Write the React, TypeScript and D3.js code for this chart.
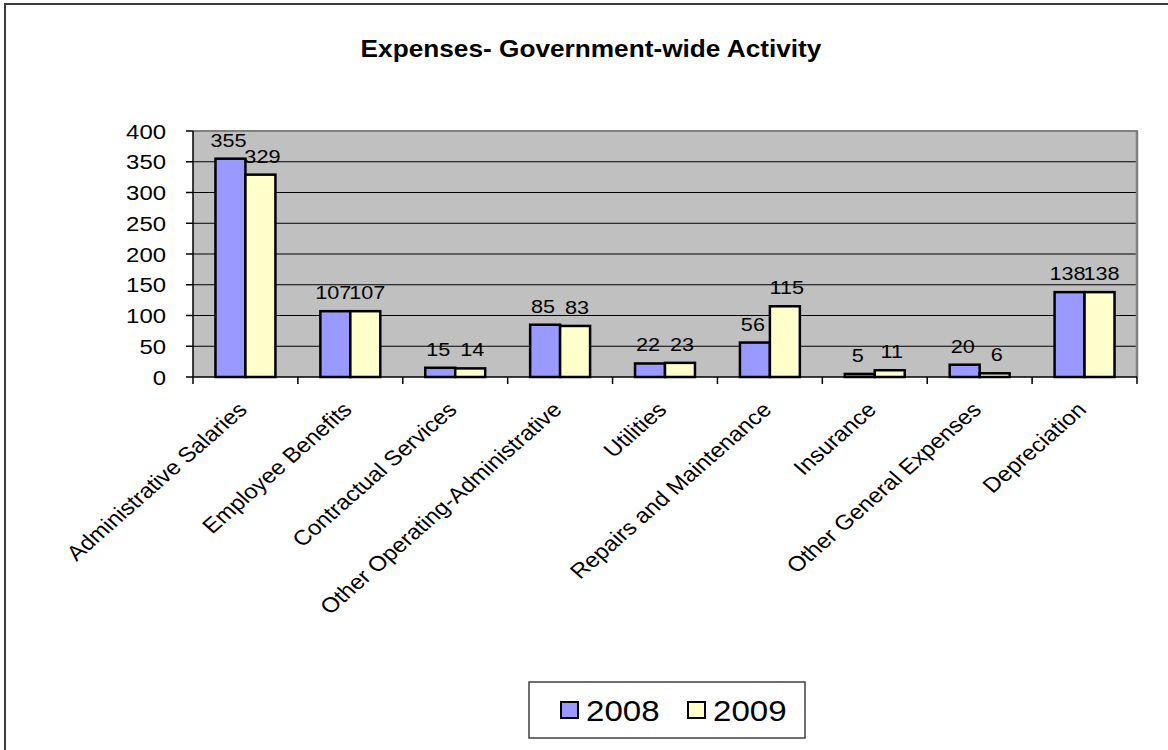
import React from 'react';
import * as d3 from 'd3';

const categories = [
  'Administrative Salaries',
  'Employee Benefits',
  'Contractual Services',
  'Other Operating-Administrative',
  'Utilities',
  'Repairs and Maintenance',
  'Insurance',
  'Other General Expenses',
  'Depreciation',
];
const values2008 = [355, 107, 15, 85, 22, 56, 5, 20, 138];
const values2009 = [329, 107, 14, 83, 23, 115, 11, 6, 138];
const seriesNames = ['2008', '2009'];
const seriesColors = ['#9999FF', '#FFFFCC'];
const yTicks = [0, 50, 100, 150, 200, 250, 300, 350, 400];
const title = 'Expenses- Government-wide Activity';

const FONT = '"Liberation Sans", Arial, Helvetica, sans-serif';

export default function App() {
  const W = 1168;
  const H = 750;
  const S = 1.14; // horizontal text stretch of the reference
  const left = 193;
  const right = 1137;
  const top = 131;
  const bottom = 377;

  const x = d3.scaleBand<string>().domain(categories).range([left, right]).paddingInner(0).paddingOuter(0);
  const y = d3.scaleLinear().domain([0, 400]).range([bottom, top]);
  const bw = x.bandwidth();
  const barW = bw / 3.5;
  const series = [values2008, values2009];

  return (
    <svg
      width={W}
      height={H}
      style={{ position: 'absolute', left: 0, top: 0, display: 'block' }}
      fontFamily={FONT}
    >
      <rect x={0} y={0} width={W} height={H} fill="#ffffff" />
      {/* outer chart border */}
      <rect x={5} y={4} width={1220} height={800} fill="none" stroke="#3c3c3c" strokeWidth={2} />

      {/* title */}
      <text
        transform={`translate(591,57) scale(${S},1)`}
        textAnchor="middle"
        fontSize={23}
        fontWeight="bold"
        fill="#000"
      >
        {title}
      </text>

      {/* plot area */}
      <rect x={left} y={top} width={right - left} height={bottom - top} fill="#C0C0C0" />
      {/* gridlines */}
      {yTicks
        .filter((t) => t > 0 && t < 400)
        .map((t) => (
          <line key={'g' + t} x1={left} x2={right} y1={y(t)} y2={y(t)} stroke="#000" strokeWidth={1.2} />
        ))}
      {/* plot border top/right (gray) */}
      <line x1={left} x2={right + 1} y1={top} y2={top} stroke="#808080" strokeWidth={2} />
      <line x1={right} x2={right} y1={top} y2={bottom} stroke="#808080" strokeWidth={2.5} />

      {/* bars */}
      {categories.map((c, i) => {
        const x0 = (x(c) as number) + bw / 2 - barW;
        return (
          <g key={c}>
            {series.map((vals, s) => (
              <rect
                key={s}
                x={x0 + s * barW}
                y={y(vals[i])}
                width={barW}
                height={bottom - y(vals[i])}
                fill={seriesColors[s]}
                stroke="#000"
                strokeWidth={2.5}
              />
            ))}
          </g>
        );
      })}

      {/* axes */}
      <line x1={left} x2={left} y1={top} y2={bottom} stroke="#000" strokeWidth={1.5} />
      <line x1={left} x2={right} y1={bottom} y2={bottom} stroke="#000" strokeWidth={1.5} />
      {yTicks.map((t) => (
        <g key={'yt' + t}>
          <line x1={left - 7} x2={left} y1={y(t)} y2={y(t)} stroke="#000" strokeWidth={1.5} />
          <text
            transform={`translate(166,${y(t) + 7.5}) scale(${S},1)`}
            textAnchor="end"
            fontSize={21}
            fill="#000"
          >
            {t}
          </text>
        </g>
      ))}
      {d3.range(categories.length + 1).map((k) => {
        const xx = left + k * bw;
        return <line key={'xt' + k} x1={xx} x2={xx} y1={bottom} y2={bottom + 7} stroke="#000" strokeWidth={1.5} />;
      })}

      {/* data labels */}
      {categories.map((c, i) => {
        const x0 = (x(c) as number) + bw / 2 - barW;
        return series.map((vals, s) => (
          <text
            key={c + s}
            transform={`translate(${x0 + s * barW + barW / 2 + (s === 0 ? -2 : 2)},${y(vals[i]) - 12}) scale(${S},1)`}
            textAnchor="middle"
            fontSize={19}
            fill="#000"
          >
            {vals[i]}
          </text>
        ));
      })}

      {/* category labels */}
      {categories.map((c) => {
        const cx = (x(c) as number) + bw / 2;
        return (
          <text
            key={'cl' + c}
            transform={`translate(${cx + 3},411) scale(${S},1) rotate(-45)`}
            textAnchor="end"
            fontSize={21}
            fill="#000"
          >
            {c}
          </text>
        );
      })}

      {/* legend */}
      <rect x={529} y={682} width={276} height={56} fill="#fff" stroke="#404040" strokeWidth={1.5} />
      {seriesNames.map((n, s) => {
        const lx = s === 0 ? 561 : 688;
        return (
          <g key={n}>
            <rect x={lx} y={702} width={17} height={16} fill={seriesColors[s]} stroke="#000" strokeWidth={2} />
            <text
              transform={`translate(${lx + 25},721) scale(${S},1)`}
              fontSize={29}
              fill="#000"
            >
              {n}
            </text>
          </g>
        );
      })}
    </svg>
  );
}
